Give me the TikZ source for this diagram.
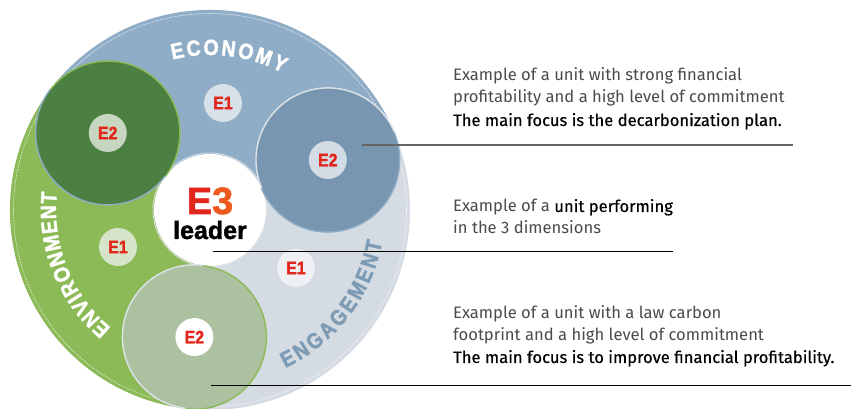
\documentclass[tikz,border=0pt]{standalone}
\usepackage{fontspec}
\usetikzlibrary{decorations.text}
\newfontfamily\bodyfont{Fira Sans}
\newfontfamily\medfont{Fira Sans}[FakeBold=0.4]
\newfontfamily\heavyfont{Liberation Sans}[UprightFont=*-Bold, FakeBold=1.8, FakeStretch=0.88]
\newfontfamily\heavywide{Liberation Sans}[UprightFont=*-Bold, FakeBold=1.5]
\definecolor{econ}{HTML}{8FADC6}
\definecolor{envi}{HTML}{8BBA56}
\definecolor{enga}{HTML}{D5DBE2}
\definecolor{ringgray}{HTML}{DDE3E9}
\definecolor{darkgr}{HTML}{4C7F42}
\definecolor{blueE}{HTML}{7896B0}
\definecolor{lightgr}{HTML}{ABC19F}
\definecolor{ered}{HTML}{E3261B}
\definecolor{eorange}{HTML}{EE5A1E}
\definecolor{engtxt}{HTML}{7D9BB5}
\definecolor{lblecon}{HTML}{D7E1E9}
\definecolor{lblenv}{HTML}{D6E5CA}
\definecolor{lbleng}{HTML}{EEF0F3}
\definecolor{lbldg}{HTML}{C6D6C0}
\definecolor{lblbl}{HTML}{D2DCE5}
\definecolor{bodygray}{HTML}{4A4A4A}
\newcommand\ecotext{\heavyfont\fontsize{22}{22}\selectfont\color{white}}
\newcommand\engtext{\heavyfont\fontsize{22}{22}\selectfont\color{engtxt}}
\begin{document}
\begin{tikzpicture}[x=1pt,y=1pt,
  bigE/.style={circle, minimum size=144pt, inner sep=0pt},
  lbl/.style={circle, minimum size=38pt, inner sep=0pt,
    font=\heavyfont\fontsize{18}{18}\selectfont, text=ered},
  edge/.style={line width=1.4pt},
  body/.style={anchor=base west, inner sep=0pt, text=bodygray,
    font=\bodyfont\fontsize{16.6}{16.6}\selectfont},
  rule/.style={line width=1pt, black}]
\useasboundingbox (-210,-199) rectangle (641,210);
% sectors
\fill[enga] (0,0) circle (200);
\fill[econ] (0,0) -- (23:200) arc[start angle=23,end angle=143,radius=200] -- cycle;
\fill[envi] (0,0) -- (143:200) arc[start angle=143,end angle=263,radius=200] -- cycle;
\draw[white, opacity=0.7, line width=0.6pt, dash pattern=on 2pt off 1pt] (0,0) circle (196.5);
% centre
\node[circle, fill=white, minimum size=112pt, inner sep=0pt] (e3) at (0,0) {};
\draw[ringgray, line width=0.8pt] (e3.center) circle (57);
% E2 circles
\node[bigE, fill=darkgr] (dg) at (143:128) {};
\node[bigE, fill=blueE] (bl) at (23:128) {};
\node[bigE, fill=lightgr] (lg) at (263:128) {};
\draw[edge, econ] (dg.143) arc[start angle=143, end angle=323, radius=72];
\draw[edge, envi] (dg.323) arc[start angle=323, end angle=503, radius=72];
\draw[edge, ringgray] (bl.23) arc[start angle=23, end angle=203, radius=72];
\draw[edge, econ] (bl.203) arc[start angle=203, end angle=383, radius=72];
\draw[edge, envi] (lg.263) arc[start angle=263, end angle=443, radius=72];
\draw[edge, ringgray] (lg.83) arc[start angle=83, end angle=263, radius=72];
% labels
\node[lbl, fill=lbldg] (dgl) at (dg) {E2};
\node[lbl, fill=lblbl] (bll) at (bl) {E2};
\node[lbl, fill=white] (lgl) at (lg) {E2};
\node[lbl, fill=lblecon] (e1a) at (13,107) {E1};
\node[lbl, fill=lblenv] (e1b) at (-92,-37) {E1};
\node[lbl, fill=lbleng] (e1c) at (86,-58) {E1};
\node[anchor=base, inner sep=0pt, font=\heavywide\fontsize{38}{38}\selectfont] (e3t) at (0,-4)
  {\textcolor{ered}{E}\textcolor{eorange}{3}};
\node[anchor=base, inner sep=0pt, font=\heavywide\fontsize{25}{25}\selectfont] (e3l) at (0,-29) {leader};
% curved titles
\path[decorate, decoration={text along path, text={|\ecotext|ECONOMY}, text align=fit to path}]
  (104:155) arc[start angle=104, end angle=62, radius=155];
\path[decorate, decoration={text along path, text={|\ecotext|ENVIRONMENT}, text align=fit to path}]
  (230:154) arc[start angle=230, end angle=173.5, radius=154];
\path[decorate, decoration={text along path, text={|\engtext|ENGAGEMENT}, text align=fit to path}]
  (295.5:175) arc[start angle=295.5, end angle=349.5, radius=175];
% right texts
\node[body] (t1a) at (243,129) {Example of a unit with strong financial};
\node[body] (t1b) at (243,107) {profitability and a high level of commitment};
\node[body, text=black] (t1c) at (243,84) {\medfont The main focus is the decarbonization plan.};
\node[body] (t2a) at (243,-2) {Example of a \textcolor{black}{\medfont unit performing}};
\node[body] (t2b) at (243,-24) {in the 3 dimensions};
\node[body] (t3a) at (243,-109) {Example of a unit with a law carbon};
\node[body] (t3b) at (243,-131) {footprint and a high level of commitment};
\node[body, text=black] (t3c) at (243,-153) {\medfont The main focus is to improve financial profitability.};
% connectors
\coordinate (p1) at (152,65);
\coordinate (q1) at (583,65);
\coordinate (p2) at (3,-42);
\coordinate (q2) at (463,-42);
\coordinate (p3) at (1,-175);
\coordinate (q3) at (641,-175);
\draw[line width=1.5pt, black!60] (p1) -- (q1);
\draw[rule] (p2) -- (q2);
\draw[rule] (p3) -- (q3);
\end{tikzpicture}
\end{document}
